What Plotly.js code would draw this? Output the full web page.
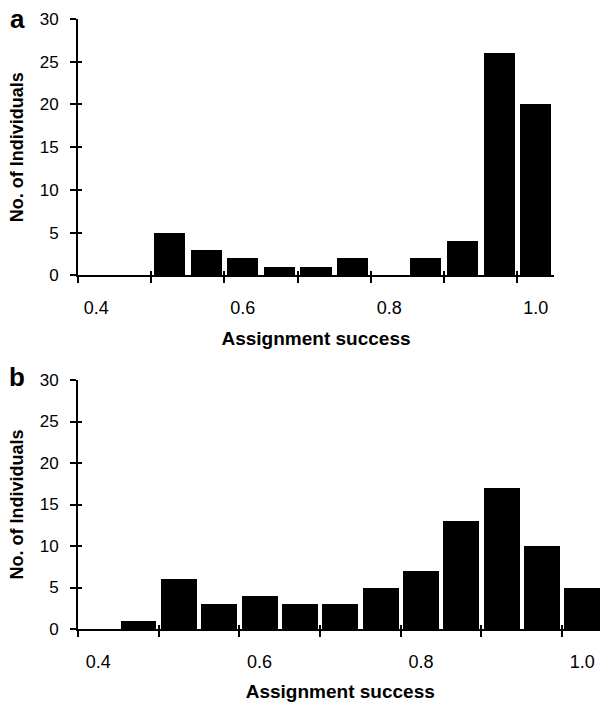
<!DOCTYPE html>
<html>
<head>
<meta charset="utf-8">
<script src="https://cdn.plot.ly/plotly-3.0.1.min.js"></script>
<style>
  html, body { margin: 0; padding: 0; background: #fff; overflow: hidden; }
  #chart { width: 610px; height: 705px; }
</style>
</head>
<body>
<div id="chart"></div>
<script>
// ---- data ----
const bins = [0.40, 0.45, 0.50, 0.55, 0.60, 0.65, 0.70, 0.75, 0.80, 0.85, 0.90, 0.95, 1.00];
const countsA = [0, 0, 5, 3, 2, 1, 1, 2, 0, 2, 4, 26, 20];
const countsB = [0, 1, 6, 3, 4, 3, 3, 5, 7, 13, 17, 10, 5];
const xTickVals = [0.4, 0.6, 0.8, 1.0];
const xTickText = ['0.4', '0.6', '0.8', '1.0'];
const yTickVals = [0, 5, 10, 15, 20, 25, 30];
const panelLabels = ['a', 'b'];
const xTitle = 'Assignment success';
const yTitle = 'No. of Individuals';

// ---- layout helpers ----
const W = 610, H = 705;
const FONT = '"Liberation Sans", Arial, Helvetica, sans-serif';
const halfBin = 0.025;
const xRange = [bins[0] - halfBin, bins[bins.length - 1] + halfBin];
const boundaryTicks = bins.filter((b, i) => i % 2 === 0).map(b => b - halfBin);

function px2fx(p) { return p / W; }
function px2fy(p) { return (H - p) / H; }

const panels = [
  { counts: countsA, xd: [78, 554], yd: [19, 275.3], barW: 0.0425, suffix: ['', '3', '5'], ysuffix: ['', '3'] },
  { counts: countsB, xd: [78, 602.5], yd: [380, 629], barW: 0.0445, suffix: ['2', '4', '6'], ysuffix: ['2', '4'] }
];

const data = [];
const layout = {
  width: W, height: H,
  margin: { l: 0, r: 0, t: 0, b: 0 },
  paper_bgcolor: '#fff', plot_bgcolor: '#fff',
  showlegend: false,
  font: { family: FONT, color: '#000' },
  bargap: 0,
  annotations: []
};

function helper(xr, yr) {
  return { type: 'scatter', mode: 'markers', x: [], y: [], xaxis: xr, yaxis: yr, hoverinfo: 'skip', showlegend: false };
}

panels.forEach((p, i) => {
  const xs = p.suffix, ys = p.ysuffix;
  const xDom = [px2fx(p.xd[0]), px2fx(p.xd[1])];
  const yDom = [px2fy(p.yd[1]), px2fy(p.yd[0])];
  const xName = 'xaxis' + xs[0], yName = 'yaxis' + ys[0];
  const xRef = 'x' + xs[0], yRef = 'y' + ys[0];

  data.push({
    type: 'bar', x: bins, y: p.counts, width: p.barW,
    xaxis: xRef, yaxis: yRef,
    marker: { color: '#000', line: { width: 0 } },
    hoverinfo: 'x+y'
  });
  data.push(helper('x' + xs[1], yRef));
  data.push(helper('x' + xs[2], yRef));
  data.push(helper(xRef, 'y' + ys[1]));

  // main x axis: outside ticks at bin boundaries
  layout[xName] = {
    domain: xDom, range: xRange, anchor: yRef,
    showline: true, linecolor: '#000', linewidth: 2,
    tickmode: 'array', tickvals: boundaryTicks, ticks: 'outside', ticklen: 6, tickwidth: 2, tickcolor: '#000',
    showticklabels: false, showgrid: false, zeroline: false, fixedrange: true
  };
  // inside part of crossing ticks
  layout['xaxis' + xs[1]] = {
    domain: xDom, range: xRange, anchor: yRef, overlaying: xRef,
    showline: false,
    tickmode: 'array', tickvals: boundaryTicks, ticks: 'inside', ticklen: 4, tickwidth: 2, tickcolor: '#000',
    showticklabels: false, showgrid: false, zeroline: false, fixedrange: true
  };
  // labels axis
  layout['xaxis' + xs[2]] = {
    domain: xDom, range: xRange, anchor: yRef, overlaying: xRef,
    showline: false,
    tickmode: 'array', tickvals: xTickVals, ticktext: xTickText,
    ticks: 'outside', ticklen: 16, tickcolor: 'rgba(0,0,0,0)',
    tickfont: { size: 18, family: FONT, color: '#000' },
    showgrid: false, zeroline: false, fixedrange: true,
    title: { text: xTitle, font: { size: 19, family: FONT, color: '#000', weight: 'bold' }, standoff: 14 }
  };
  // main y axis
  layout[yName] = {
    domain: yDom, range: [0, 30], anchor: xRef,
    showline: true, linecolor: '#000', linewidth: 2,
    tickmode: 'array', tickvals: yTickVals, ticks: 'outside', ticklen: 6, tickwidth: 2, tickcolor: '#000',
    tickfont: { size: 17, family: FONT, color: '#000' },
    ticklabelstandoff: 8,
    showgrid: false, zeroline: false, fixedrange: true,
    title: { text: yTitle, font: { size: 18, family: FONT, color: '#000', weight: 'bold' }, standoff: 11 }
  };
  layout['yaxis' + ys[1]] = {
    domain: yDom, range: [0, 30], anchor: xRef, overlaying: yRef,
    showline: false,
    tickmode: 'array', tickvals: yTickVals, ticks: 'inside', ticklen: 4, tickwidth: 2, tickcolor: '#000',
    showticklabels: false, showgrid: false, zeroline: false, fixedrange: true
  };

  layout.annotations.push({
    text: '<b>' + panelLabels[i] + '</b>', xref: 'paper', yref: 'paper',
    x: px2fx(17), y: px2fy(i === 0 ? 19 : 377),
    xanchor: 'center', yanchor: 'middle', showarrow: false,
    font: { size: 26, family: FONT, color: '#000' }
  });
});

Plotly.newPlot('chart', data, layout, { displayModeBar: false, staticPlot: true });
</script>
</body>
</html>
